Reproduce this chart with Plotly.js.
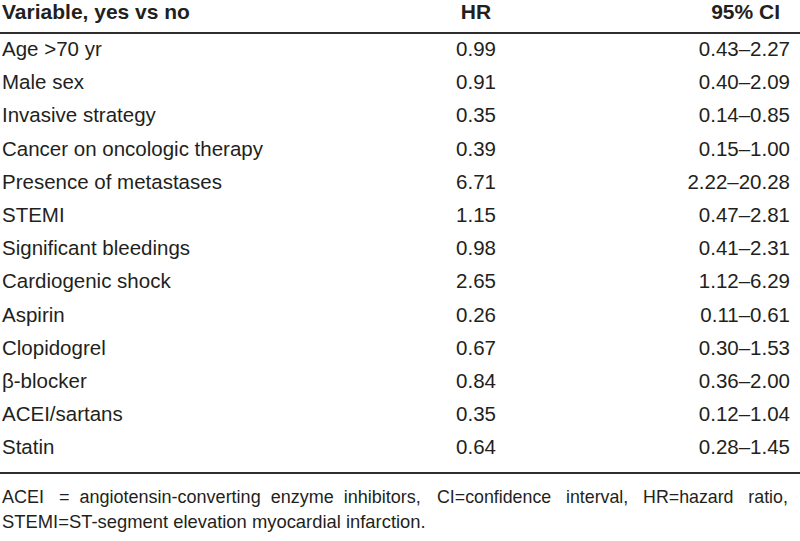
<!DOCTYPE html>
<html>
<head>
<meta charset="utf-8">
<script src="https://cdn.plot.ly/plotly-3.0.1.min.js"></script>
<style>html,body{margin:0;padding:0;background:#fff;}#chart{width:800px;height:541px;}</style>
</head>
<body>
<div id="chart"></div>
<script>
const headers = ["Variable, yes vs no", "HR", "95% CI"];
const variables = ["Age >70 yr", "Male sex", "Invasive strategy", "Cancer on oncologic therapy",
  "Presence of metastases", "STEMI", "Significant bleedings", "Cardiogenic shock",
  "Aspirin", "Clopidogrel", "β-blocker", "ACEI/sartans", "Statin"];
const hr = ["0.99", "0.91", "0.35", "0.39", "6.71", "1.15", "0.98", "2.65", "0.26", "0.67", "0.84", "0.35", "0.64"];
const ci = ["0.43–2.27", "0.40–2.09", "0.14–0.85", "0.15–1.00", "2.22–20.28", "0.47–2.81", "0.41–2.31",
  "1.12–6.29", "0.11–0.61", "0.30–1.53", "0.36–2.00", "0.12–1.04", "0.28–1.45"];
const footnote1a = "ACEI\u00A0\u00A0 =\u00A0 angiotensin-converting\u00A0 enzyme\u00A0 inhibitors,";
const footnote1b = "CI=confidence\u00A0\u00A0 interval,\u00A0\u00A0 HR=hazard\u00A0\u00A0 ratio,";
const footnote2 = "STEMI=ST-segment elevation myocardial infarction.";

const FONT = "Liberation Sans, Arial, sans-serif";
const TXT = "#231f20";
const rows = variables.map((_, i) => i + 1);

function col(xv, vals, pos, ys, size, bold) {
  return {
    type: "scatter", mode: "text",
    x: vals.map(() => xv), y: ys,
    text: vals.map(v => bold ? "<b>" + v + "</b>" : v),
    textposition: pos,
    textfont: {family: FONT, size: size, color: TXT},
    hoverinfo: "skip", cliponaxis: false
  };
}

const data = [
  col(2, variables, "middle right", rows, 20.5, false),
  col(476, hr, "middle center", rows, 20.5, false),
  col(790, ci, "middle left", rows, 20.5, false),
  col(2, [headers[0]], "middle right", [-0.12], 21, true),
  col(476, [headers[1]], "middle center", [-0.12], 21, true),
  col(780, [headers[2]], "middle left", [-0.12], 21, true)
];

const layout = {
  width: 800, height: 541,
  margin: {l: 0, r: 0, t: 0, b: 0},
  paper_bgcolor: "#fff", plot_bgcolor: "#fff",
  showlegend: false,
  xaxis: {range: [0, 800], visible: false, fixedrange: true},
  yaxis: {range: [15.77, -0.5375], visible: false, fixedrange: true},
  shapes: [
    {type: "line", xref: "paper", yref: "y", x0: 0, x1: 1, y0: 0.457, y1: 0.457,
     line: {color: "#2e2e2e", width: 2}},
    {type: "line", xref: "paper", yref: "y", x0: 0, x1: 1, y0: 13.72, y1: 13.72,
     line: {color: "#2e2e2e", width: 2}}
  ],
  annotations: [
    {xref: "paper", yref: "paper", x: 0, y: 1 - 497/541, xanchor: "left", yanchor: "middle",
     text: footnote1a, showarrow: false, font: {family: FONT, size: 18, color: TXT}},
    {xref: "x", yref: "paper", x: 790, y: 1 - 497/541, xanchor: "right", yanchor: "middle",
     text: footnote1b, showarrow: false, font: {family: FONT, size: 17.8, color: TXT}},
    {xref: "paper", yref: "paper", x: 0, y: 1 - 521/541, xanchor: "left", yanchor: "middle",
     text: footnote2, showarrow: false, font: {family: FONT, size: 18.4, color: TXT}}
  ]
};

Plotly.newPlot("chart", data, layout, {displayModeBar: false, staticPlot: true});
</script>
</body>
</html>
